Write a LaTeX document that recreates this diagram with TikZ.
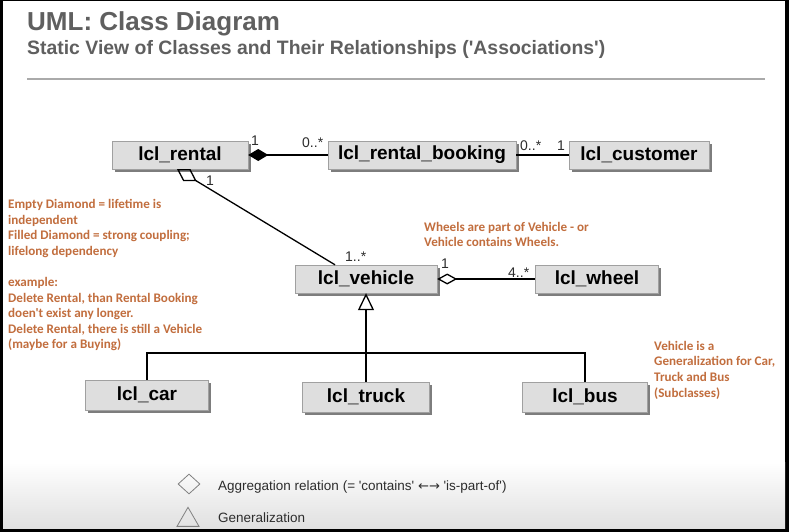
\documentclass[tikz,border=0pt]{standalone}
\usepackage{fontspec}
\setmainfont{Liberation Sans}[Ligatures=TeXOff]
\newfontfamily\notefont{Carlito}[Ligatures=TeXOff]
\newfontfamily\arrowfont{DejaVu Sans}
\usetikzlibrary{arrows.meta, positioning, shapes.geometric, shadows}

\definecolor{titlegray}{RGB}{95,95,95}
\definecolor{rulegray}{RGB}{170,170,170}
\definecolor{boxfill}{RGB}{222,222,222}
\definecolor{boxline}{RGB}{160,160,160}
\definecolor{boxshade}{RGB}{125,125,125}
\definecolor{notecolor}{RGB}{194,110,62}
\definecolor{multgray}{RGB}{45,45,45}

\begin{document}
\begin{tikzpicture}[
    x=1pt, y=-1pt,
    every node/.style={font=\fontsize{14}{16}\selectfont},
    classbox/.style={rectangle, draw=boxline, fill=boxfill, minimum height=28pt, inner sep=0pt,
        font=\fontsize{19}{22}\selectfont\bfseries,
        drop shadow={shadow xshift=2.5pt, shadow yshift=-2.5pt, fill=boxshade, opacity=1}},
    note/.style={font=\notefont\bfseries\fontsize{13.1}{15.6}\selectfont, text=notecolor, align=left, anchor=north west, inner sep=0pt},
    mult/.style={font=\fontsize{14}{16}\selectfont, text=multgray, anchor=base west, inner sep=0pt},
    legend/.style={font=\fontsize{13.5}{16}\selectfont, text=multgray, anchor=base west, inner sep=0pt},
    assoc/.style={line width=1.3pt},
    compose/.style={assoc, {Diamond[length=20pt, width=12pt, fill=black]}-},
    aggreg/.style={assoc, {Diamond[open, length=20pt, width=11pt]}-},
    generalize/.style={assoc, -{Triangle[open, length=17pt, width=16pt]}}
]
\useasboundingbox (0,0) rectangle (789,532);

% frame and background
\fill[black] (0,0) rectangle (789,532);
\fill[white] (3,1) rectangle (785,528);
\shade[top color=white, bottom color=black!12] (3,462) rectangle (785,528);

% ============ HEADER ============
\node[font=\fontsize{26}{30}\selectfont\bfseries, text=titlegray, anchor=base west, inner sep=0pt] (title) at (27,31) {UML: Class Diagram};
\node[font=\fontsize{19.4}{22}\selectfont\bfseries, text=titlegray, anchor=base west, inner sep=0pt] (subtitle) at (27,55) {Static View of Classes and Their Relationships ('Associations')};
\draw[rulegray, line width=1.2pt] (27,79) -- (765,79);

% ============ CLASSES ============
\node[classbox, minimum width=136pt] (rental) at (180,155) {lcl\_rental};
\node[classbox, minimum width=188pt] (booking) at (422,155) {lcl\_rental\_booking};
\node[classbox, minimum width=140pt] (customer) at (639,155) {lcl\_customer};
\node[classbox, minimum width=142pt] (vehicle) at (366,279) {lcl\_vehicle};
\node[classbox, minimum width=123pt] (wheel) at (597,279) {lcl\_wheel};
\node[classbox, minimum width=123pt, minimum height=30pt] (car) at (147,395) {lcl\_car};
\node[classbox, minimum width=127pt, minimum height=30pt] (truck) at (366,397) {lcl\_truck};
\node[classbox, minimum width=125pt, minimum height=30pt] (bus) at (585,397) {lcl\_bus};

% ============ ASSOCIATIONS ============
\draw[compose] (rental.east) -- (booking.west);
\draw[assoc] (booking.east) -- (customer.west);
\draw[aggreg, {Diamond[open, length=23pt, width=14pt]}-] ([xshift=-3pt]rental.south) -- ([xshift=-31pt]vehicle.north);
\draw[aggreg] (vehicle.east) -- (wheel.west);

% generalization tree
\coordinate (bar) at (366,353);
\draw[generalize] (truck.north) -- (vehicle.south);
\draw[assoc] (car.north) |- (bar) -| (bus.north);

% multiplicities
\node[mult] (m1) at (251,146) {1};
\node[mult] (m2) at (302,147) {0..*};
\node[mult] (m3) at (520,150) {0..*};
\node[mult] (m4) at (557,150) {1};
\node[mult] (m5) at (206,185) {1};
\node[mult] (m6) at (345,261) {1..*};
\node[mult] (m7) at (441,268) {1};
\node[mult] (m8) at (508,277) {4..*};

% ============ NOTES ============
\node[note] (lifetime) at (8,199) {Empty Diamond = lifetime is\\independent\\Filled Diamond = strong coupling;\\lifelong dependency\\[15.6pt]example:\\Delete Rental, than Rental Booking\\doen't exist any longer.\\Delete Rental, there is still a Vehicle\\(maybe for a Buying)};
\node[note] (partof) at (424,222) {Wheels are part of Vehicle - or\\Vehicle contains Wheels.};
\node[note] (subclass) at (654,341) {Vehicle is a\\Generalization for Car,\\Truck and Bus\\(Subclasses)};

% ============ LEGEND ============
\node[diamond, draw=gray, line width=0.8pt, minimum width=22pt, minimum height=20pt, inner sep=0pt] (aggsym) at (189,484) {};
\node[regular polygon, regular polygon sides=3, draw=gray, line width=0.8pt, minimum size=25.4pt, inner sep=0pt] (gensym) at (188,520) {};
\node[legend] (aggtext) at (218,490) {Aggregation relation (= 'contains' {\arrowfont\fontsize{13}{16}\selectfont ←→} 'is-part-of')};
\node[legend] (gentext) at (218,522) {Generalization};

\end{tikzpicture}
\end{document}
